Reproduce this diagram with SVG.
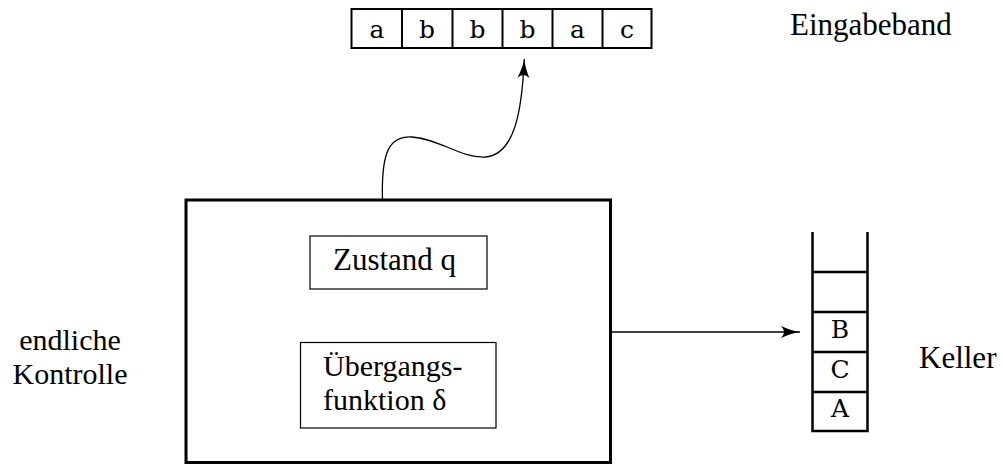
<svg xmlns="http://www.w3.org/2000/svg" width="1003" height="465" viewBox="0 0 1003 465">
<style>
.t{font-family:"Liberation Serif","Times New Roman",serif;font-size:31px;fill:#000}
.t2{font-family:"Liberation Serif","Times New Roman",serif;font-size:30px;fill:#000}
.m{font-family:"DejaVu Serif","Liberation Serif",serif;font-size:25px;fill:#000;text-anchor:middle}
.thick{fill:#fff;stroke:#000;stroke-width:3}
.thin{fill:#fff;stroke:#000;stroke-width:1.2}
.cell{fill:#fff;stroke:#000;stroke-width:2}
.conn{fill:none;stroke:#000;stroke-width:1.3}
</style>
<defs>
<marker id="ah" markerUnits="userSpaceOnUse" markerWidth="24" markerHeight="16" viewBox="-20 -8 24 16" refX="0" refY="0" orient="auto">
<path d="M-19,-6 Q-8,-1 0,0 Q-8,1 -19,6 Q-13,0 -19,-6 Z" fill="#000"/>
</marker>
</defs>
<g id="tape">
<rect class="cell" x="351.5" y="9" width="300" height="39"/>
<line class="cell" x1="402" y1="9" x2="402" y2="48"/>
<line class="cell" x1="452.5" y1="9" x2="452.5" y2="48"/>
<line class="cell" x1="502.5" y1="9" x2="502.5" y2="48"/>
<line class="cell" x1="552.5" y1="9" x2="552.5" y2="48"/>
<line class="cell" x1="602.5" y1="9" x2="602.5" y2="48"/>
<text class="m" x="377" y="38">a</text>
<text class="m" x="427" y="38">b</text>
<text class="m" x="477.5" y="38">b</text>
<text class="m" x="527.5" y="38">b</text>
<text class="m" x="577.5" y="38">a</text>
<text class="m" x="627" y="38">c</text>
</g>
<g id="label-eingabeband"><text class="t" x="790" y="35">Eingabeband</text></g>
<g id="control">
<rect class="thick" x="186" y="200" width="424.5" height="262.5"/>
</g>
<g id="zustand">
<rect class="thin" x="310" y="236" width="177" height="53"/>
<text class="t" x="333" y="270">Zustand q</text>
</g>
<g id="uebergang">
<rect class="thin" x="300.5" y="342.5" width="195.5" height="85.5"/>
<text class="t2" x="323" y="376">Übergangs-</text>
<text class="t2" x="323" y="410">funktion δ</text>
</g>
<g id="label-kontrolle">
<text class="t2" x="70" y="350" text-anchor="middle">endliche</text>
<text class="t2" x="70" y="384" text-anchor="middle">Kontrolle</text>
</g>
<g id="stack">
<path d="M812.5,232 V431 H867.5 V232" fill="none" stroke="#000" stroke-width="2.5"/>
<line x1="812.5" y1="272" x2="867.5" y2="272" stroke="#000" stroke-width="2.5"/>
<line x1="812.5" y1="312" x2="867.5" y2="312" stroke="#000" stroke-width="2.5"/>
<line x1="812.5" y1="352" x2="867.5" y2="352" stroke="#000" stroke-width="2.5"/>
<line x1="812.5" y1="392" x2="867.5" y2="392" stroke="#000" stroke-width="2.5"/>
<text class="m" x="840" y="338">B</text>
<text class="m" x="840" y="378">C</text>
<text class="m" x="840" y="417">A</text>
</g>
<g id="label-keller"><text class="t" x="919" y="368">Keller</text></g>
<g id="connectors">
<path class="conn" d="M382.5,200 C381,150 390,136 412,137 C440,139 460,158 485,157 C515,155 522,110 524.3,59" marker-end="url(#ah)"/>
<line class="conn" x1="611" y1="332" x2="800" y2="332" marker-end="url(#ah)"/>
</g>
</svg>
